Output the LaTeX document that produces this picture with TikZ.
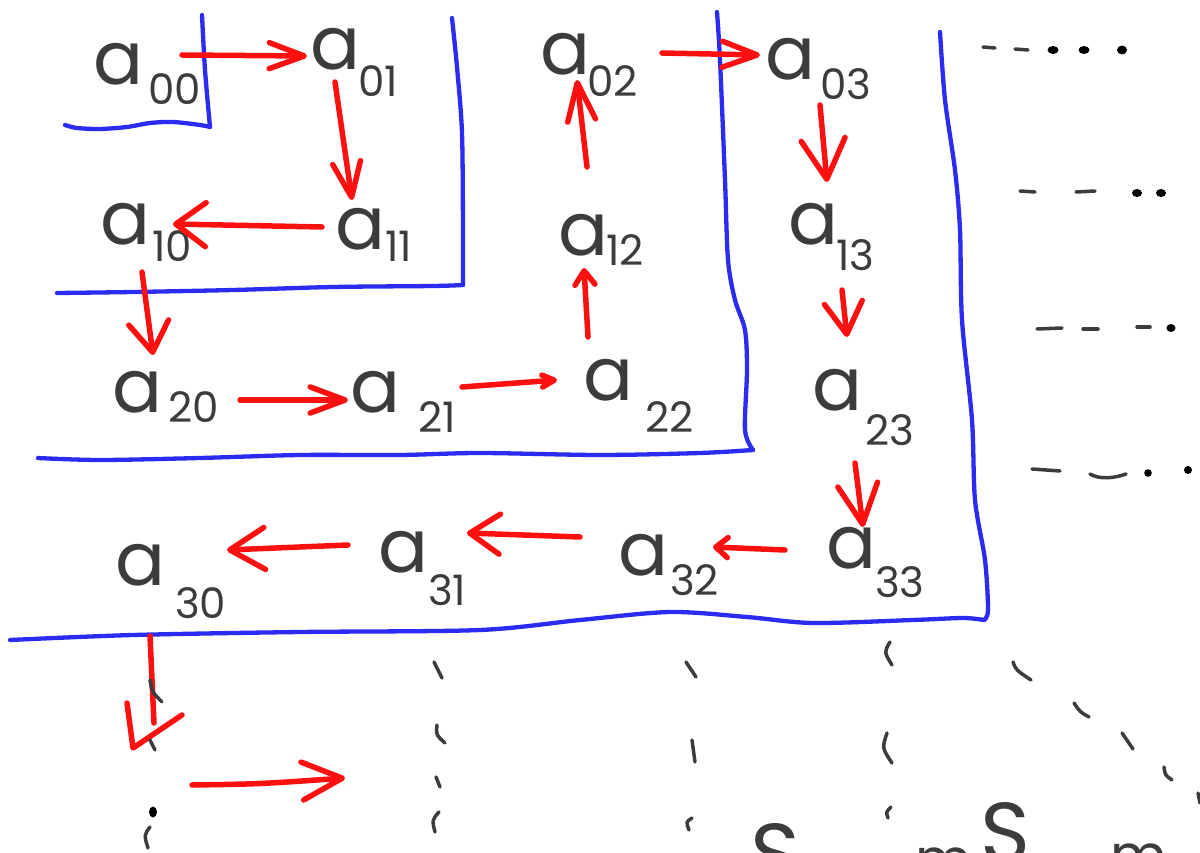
\documentclass[tikz,border=0pt]{standalone}
\usepackage{fontspec}
\setmainfont{Poppins}
\usetikzlibrary{arrows.meta}
\definecolor{ink}{HTML}{3C3C3C}
\definecolor{pen}{HTML}{FF1010}
\definecolor{rule}{HTML}{2B2BF2}
% matrix entry: a large "a" with its two-digit index set lower and to the right
\newcommand\entry[3]{\makebox[0pt][l]{\fontsize{74}{74}\selectfont a}\hspace{#2pt}\raisebox{-#3pt}{\fontsize{42}{42}\selectfont #1}}
\begin{document}
\begin{tikzpicture}[x=1pt,y=-1pt,
  elem/.style={anchor=base west, inner sep=0pt, text=ink},
  ar/.style={draw=pen, line width=5.5pt, line cap=round, line join=round},
  head/.style 2 args={-{Straight Barb[length=#1pt,width=#2pt,round]}},
  rule line/.style={draw=rule, line width=4.3pt, line cap=round, line join=round},
  trail/.style={draw=ink, line width=3.5pt, line cap=round},
  blot/.style={fill=black},
  script/.style={anchor=base west, inner sep=0pt, text=ink, font=\fontsize{85}{85}\selectfont}]
\useasboundingbox (0,0) rectangle (1200,853);

% ---------- boundaries of the growing square blocks ----------
\draw[rule line] plot[smooth] coordinates {(202,15) (205,70) (210,127)};
\draw[rule line] plot[smooth] coordinates {(210,127) (200,125) (173,122) (150,123) (127,127) (100,129) (77,128) (65,125)};
\draw[rule line] plot[smooth] coordinates {(452,18) (457,67) (462,133) (463,233) (463,285)};
\draw[rule line] plot[smooth] coordinates {(463,285) (433,286) (333,287) (233,290) (133,292) (57,293)};
\draw[rule line] plot[smooth] coordinates {(717,12) (720,60) (725,180) (728,260) (735,300) (745,330) (747,370) (745,430) (753,450)};
\draw[rule line] plot[smooth] coordinates {(753,450) (700,453) (600,455) (480,453) (400,455) (300,455) (200,458) (100,460) (38,458)};
\draw[rule line] plot[smooth] coordinates {(940,32) (945,100) (955,170) (960,230) (962,320) (972,420) (975,500) (985,560) (988,610) (984,620)};
\draw[rule line] plot[smooth] coordinates {(984,620) (963,618) (913,620) (813,623) (747,617) (670,612) (580,620) (480,630) (300,632) (133,635) (10,640)};

% ---------- entries ----------
\node[elem] (a00) at (93,85)   {\entry{00}{55}{20}};
\node[elem] (a01) at (310,70)  {\entry{01}{48}{27}};
\node[elem] (a02) at (540,75)  {\entry{02}{47}{22}};
\node[elem] (a03) at (765,80)  {\entry{03}{55}{20}};
\node[elem] (a10) at (100,245) {\entry{10}{52}{17}};
\node[elem] (a11) at (335,250) {\entry{11}{50}{12}};
\node[elem] (a12) at (558,255) {\entry{12}{48}{10}};
\node[elem] (a13) at (788,245) {\entry{13}{48}{25}};
\node[elem] (a20) at (112,412) {\entry{20}{56}{10}};
\node[elem] (a21) at (350,412) {\entry{21}{68}{20}};
\node[elem] (a22) at (583,400) {\entry{22}{62}{32}};
\node[elem] (a23) at (812,410) {\entry{23}{53}{35}};
\node[elem] (a30) at (115,585) {\entry{30}{60}{33}};
\node[elem] (a31) at (378,572) {\entry{31}{50}{33}};
\node[elem] (a32) at (618,575) {\entry{32}{52}{20}};
\node[elem] (a33) at (826,568) {\entry{33}{49}{29}};

% ---------- traversal order ----------
\draw[ar, head={35}{26}] ([shift={(89,-30)}]a00.base west) -- ([shift={(-3,-14)}]a01.base west);
\draw[ar, head={35}{28}] ([shift={(25,12)}]a01.base west) -- ([shift={(17,-50)}]a11.base west);
\draw[ar, head={30}{44}] ([shift={(-13,-23)}]a11.base west) -- ([shift={(73,-21)}]a10.base west);
\draw[ar, head={30}{40}] ([shift={(42,27)}]a10.base west) -- ([shift={(41,-57)}]a20.base west);
\draw[ar, head={35}{26}] ([shift={(128,-12)}]a20.base west) -- ([shift={(-2,-12)}]a21.base west);
\draw[ar, head={12}{12}] ([shift={(112,-25)}]a21.base west) -- ([shift={(-26,-20)}]a22.base west);
\draw[ar, head={14}{20}] ([shift={(5,-63)}]a22.base west) -- ([shift={(26,13)}]a12.base west);
\draw[ar, head={38}{28}] ([shift={(29,-88)}]a12.base west) -- ([shift={(37,5)}]a02.base west);
\draw[ar, head={35}{26}] ([shift={(122,-22)}]a02.base west) -- ([shift={(-5,-25)}]a03.base west);
\draw[ar, head={40}{44}] ([shift={(55,25)}]a03.base west) -- ([shift={(39,-63)}]a13.base west);
\draw[ar, head={32}{38}] ([shift={(54,45)}]a13.base west) -- ([shift={(35,-73)}]a23.base west);
\draw[ar, head={40}{40}] ([shift={(43,53)}]a23.base west) -- ([shift={(37,-41)}]a33.base west);
\draw[ar, head={12}{20}] ([shift={(-41,-18)}]a33.base west) -- ([shift={(95,-28)}]a32.base west);
\draw[ar, head={30}{40}] ([shift={(-38,-38)}]a32.base west) -- ([shift={(89,-39)}]a31.base west);
\draw[ar, head={35}{42}] ([shift={(-30,-27)}]a31.base west) -- ([shift={(112,-35)}]a30.base west);

% ---------- continuation below the last block ----------
\coordinate (drop) at (150,636);
\coordinate (dropend) at (154,723);
\coordinate (vl) at (127,703);
\coordinate (droptip) at (133,748);
\coordinate (vr) at (182,715);
\draw[ar] (drop) -- (dropend);
\draw[ar] (vl) -- (droptip) -- (vr);
\coordinate (rs) at (192,785);
\coordinate (re) at (345,778);
\draw[ar, head={40}{38}] (rs) .. controls (260,784) .. (re);

% ---------- dots to the right of each row ----------
\draw[trail] (983,47) -- (995,48);  \draw[trail] (1015,49) -- (1028,50);
\fill[blot] (1053,50) ellipse (5.5 and 4);
\fill[blot] (1084,50) ellipse (5.5 and 4);
\fill[blot] (1122,50) ellipse (5 and 4.5);
\draw[trail] (1020,191) -- (1035,192); \draw[trail] (1076,192) -- (1095,191);
\fill[blot] (1137,193) ellipse (5 and 4);
\fill[blot] (1161,193) ellipse (5 and 4);
\draw[trail] (1037,329) -- (1062,328); \draw[trail] (1083,329) -- (1098,329);
\draw[trail] (1137,327) -- (1150,327);
\fill[blot] (1171,328) ellipse (4.5 and 4);
\draw[trail] (1032,469) -- (1060,471);
\draw[trail] (1090,474) .. controls (1100,480) and (1115,478) .. (1126,474);
\fill[blot] (1148,473) circle (3.8);
\fill[blot] (1188,470) circle (4);

% ---------- dots below each column ----------
\draw[trail] (150,680) .. controls (152,692) .. (162,702);
\draw[trail] (150,740) -- (155,750);
\fill[blot] (153,812) ellipse (4 and 5.5);
\draw[trail] (150,827) .. controls (144,835) .. (148,848);
\draw[trail] (434,662) -- (442,678);
\draw[trail] (437,725) .. controls (436,735) .. (445,743);
\draw[trail] (436,777) -- (440,787);
\draw[trail] (439,812) .. controls (432,820) .. (435,832);
\draw[trail] (686,662) -- (696,677);
\draw[trail] (692,740) -- (695,762);
\draw[trail] (692,818) .. controls (686,822) .. (689,830);
\draw[trail] (890,642) .. controls (884,652) .. (892,665);
\draw[trail] (887,733) .. controls (882,748) .. (892,763);
\draw[trail] (891,807) .. controls (886,812) .. (888,818);
\draw[trail] (1013,662) .. controls (1016,670) .. (1031,680);
\draw[trail] (1074,703) .. controls (1080,712) .. (1089,717);
\draw[trail] (1122,733) -- (1133,749);
\draw[trail] (1164,767) .. controls (1165,775) .. (1172,780);
\draw[trail] (1198,793) -- (1200,803);

% ---------- writing running off the lower edge ----------
\begin{scope}
\clip (0,0) rectangle (1200,853);
\node[script] (s1) at (750,883) {S};
\node[script, font=\fontsize{55}{55}\selectfont] (m1) at (915,878) {m};
\node[script] (s2) at (980,862) {S};
\node[script, font=\fontsize{55}{55}\selectfont] (m2) at (1110,874) {m};
\end{scope}
\end{tikzpicture}
\end{document}
